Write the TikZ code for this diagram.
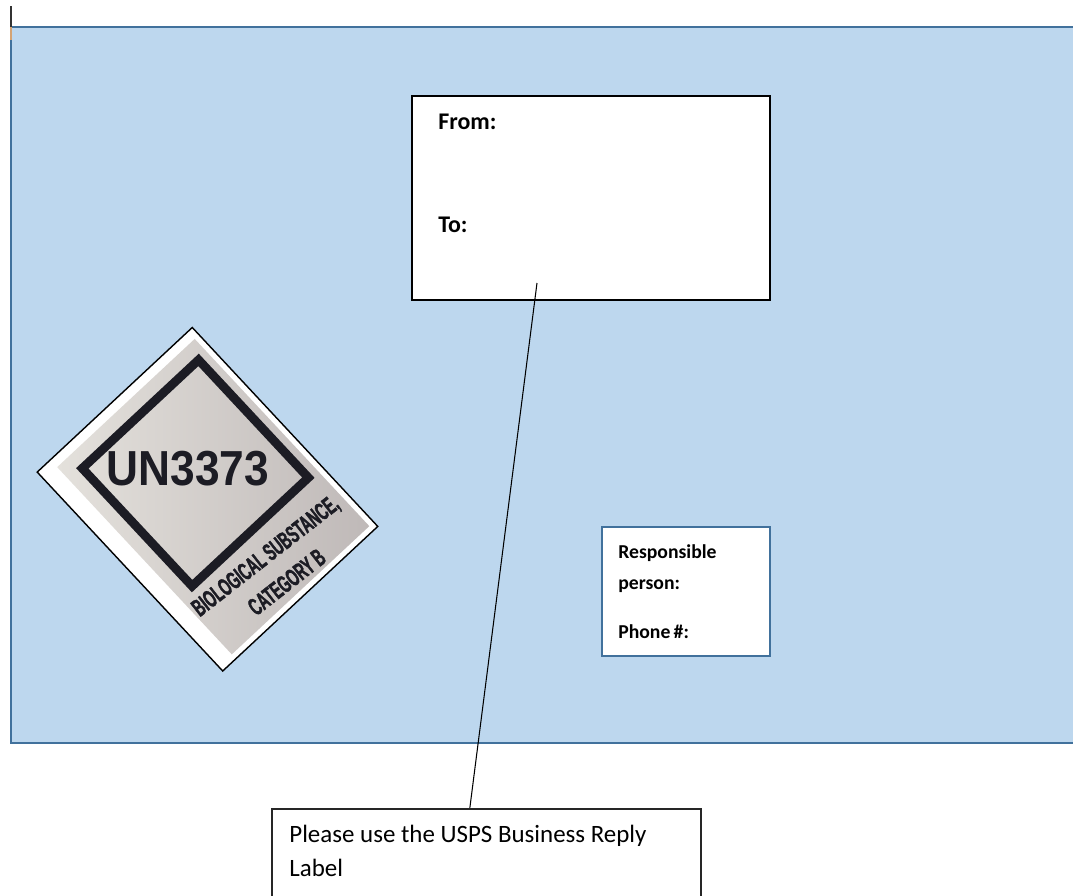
\documentclass[tikz,border=0pt]{standalone}
\usepackage{fontspec}
\setmainfont{Carlito}
\newfontfamily\labelfont{Liberation Sans}
\newfontfamily\biofont[FakeStretch=0.56, BoldFeatures={FakeBold=1.6}]{Liberation Sans}
\usetikzlibrary{positioning,calc}
\definecolor{envfill}{HTML}{BDD7EE}
\definecolor{envline}{HTML}{41719C}
\definecolor{silverhi}{HTML}{E4E1DC}
\definecolor{silverlo}{HTML}{BFB9B8}
\definecolor{inkgray}{HTML}{1C1C24}
\definecolor{caretorange}{HTML}{D4A373}

\begin{document}
\begin{tikzpicture}[
  x=0.02cm, y=-0.02cm,
  addrbox/.style={rectangle, draw=black, line width=1.1pt, fill=white,
                  inner sep=0pt, anchor=north west},
  infobox/.style={rectangle, draw=envline, line width=0.9pt, fill=white,
                  inner sep=0pt, anchor=north west},
  notebox/.style={rectangle, draw=black!85, line width=1.1pt, fill=white,
                  inner sep=0pt, anchor=north west},
  addrtext/.style={font=\fontsize{13.6pt}{16pt}\selectfont\bfseries,
                   anchor=base west, inner sep=0pt},
  infotext/.style={font=\fontsize{11.2pt}{13pt}\selectfont\bfseries,
                   anchor=base west, inner sep=0pt},
  notetext/.style={font=\fontsize{14.2pt}{17pt}\selectfont,
                   anchor=base west, inner sep=0pt},
  biotext/.style={font=\biofont\bfseries\fontsize{14pt}{16pt}\selectfont,
                  text=inkgray, anchor=base, inner sep=0pt},
  lead/.style={draw=black, line width=0.6pt}
]
\useasboundingbox (0,0) rectangle (1073,896);
\clip (0,0) rectangle (1073,896);
%% -- envelope -------------------------------------------------------------
\fill[envfill] (11,27) rectangle (1090,743);
\draw[envline, line width=1.5pt] (1090,27) -- (11,27) -- (11,743) -- (1090,743);
\draw[black!80, line width=1.2pt] (11,6) -- (11,27);
\draw[caretorange, line width=1.2pt] (11,27) -- (11,40);
%% -- address box ----------------------------------------------------------
\node[addrbox, minimum width=7.16cm, minimum height=4.08cm] (addr) at (411,95) {};
\node[addrtext] (from) at ($(addr.north west)+(27,34)$) {From:};
\node[addrtext] (to)   at ($(addr.north west)+(27,137)$) {To:};
%% -- responsible person box -----------------------------------------------
\node[infobox, minimum width=3.36cm, minimum height=2.58cm] (info) at (601,526) {};
\node[infotext] (resp)   at ($(info.north west)+(17,32)$)  {Responsible};
\node[infotext] (person) at ($(info.north west)+(17,63)$)  {person:};
\node[infotext] (phone)  at ($(info.north west)+(17,112)$) {Phone\,\#:};
%% -- note box -------------------------------------------------------------
\node[notebox, minimum width=8.58cm, minimum height=2.2cm] (note) at (271,808) {};
\node[notetext] (noteone) at ($(note.north west)+(18,34)$) {Please use the USPS Business Reply};
\node[notetext] (notetwo) at ($(note.north west)+(18,68)$) {Label};
%% -- leader line ----------------------------------------------------------
\coordinate (leadstart) at (537,283);
\draw[lead] (leadstart) -- ($(note.north west)!0.4615!(note.north east)$);
%% -- UN3373 label ---------------------------------------------------------
\begin{scope}[shift={(207.5,499.25)}, rotate=-47]
  \draw[fill=white, line width=0.8pt] (-136,-106) rectangle (136,106);
  \shade[left color=silverhi, right color=silverlo] (-126,-100) rectangle (130,88);
  \draw[inkgray, line width=5pt] (-108,-88.5) rectangle (53,70.5);
\end{scope}
\node[font=\labelfont\bfseries\fontsize{28pt}{30pt}\selectfont, text=inkgray,
      xscale=0.9, inner sep=0pt] (unnum) at (188,468.5) {UN3373};
\node[biotext, rotate=38] (bioone) at (270.4,562.2) {BIOLOGICAL SUBSTANCE,};
\node[biotext, rotate=38] (biotwo) at (291.9,588.7) {CATEGORY B};
\end{tikzpicture}
\end{document}
